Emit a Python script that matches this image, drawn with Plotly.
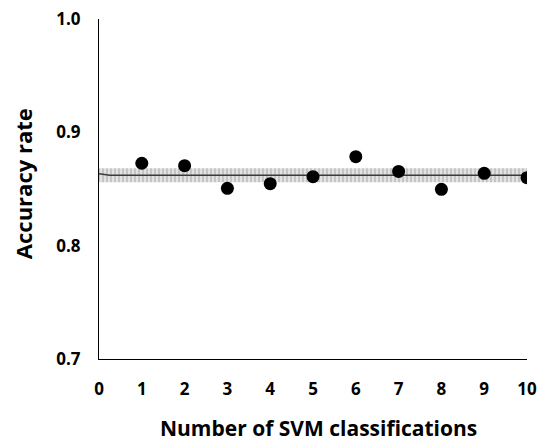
import plotly.graph_objects as go

runs = [1, 2, 3, 4, 5, 6, 7, 8, 9, 10]
accuracy = [0.8727, 0.8706, 0.8506, 0.8547, 0.8609, 0.8785, 0.8655, 0.8497, 0.8638, 0.8600]

mean_x = [0, 0.25, 10]
mean_y = [0.8635, 0.8622, 0.8622]
band_x = [0, 10]
band_lo = [0.8560, 0.8560]
band_hi = [0.8683, 0.8683]

x_ticks = [0, 1, 2, 3, 4, 5, 6, 7, 8, 9, 10]
y_ticks = [0.7, 0.8, 0.9, 1.0]
y_tick_labels = ["0.7", "0.8", "0.9", "1.0"]

FONT = "Open Sans"

fig = go.Figure()
fig.add_trace(go.Scatter(x=band_x, y=band_lo, mode="lines", line=dict(width=0),
                         showlegend=False, hoverinfo="skip"))
fig.add_trace(go.Scatter(x=band_x, y=band_hi, mode="lines", line=dict(width=0),
                         fill="tonexty", fillcolor="rgba(0,0,0,0)",
                         fillpattern=dict(shape="|", fgcolor="white", bgcolor="#c4c4c4",
                                          size=4, solidity=0.5),
                         showlegend=False, hoverinfo="skip"))
fig.add_trace(go.Scatter(x=mean_x, y=mean_y, mode="lines",
                         line=dict(color="#3a3a3a", width=1.5), showlegend=False))
fig.add_trace(go.Scatter(x=runs, y=accuracy, mode="markers",
                         marker=dict(color="black", size=13), showlegend=False))

fig.update_layout(
    width=537, height=444,
    margin=dict(l=99, r=10, t=19, b=85),
    paper_bgcolor="white", plot_bgcolor="white",
    font=dict(family=FONT, color="black"),
    annotations=[
        dict(text="<b>Number of SVM classifications</b>", xref="paper", yref="paper",
             x=0.513, y=-0.203, xanchor="center", yanchor="middle", showarrow=False,
             font=dict(family=FONT, size=21, color="black")),
        dict(text="<b>Accuracy rate</b>", xref="paper", yref="paper",
             x=-0.177, y=0.515, xanchor="center", yanchor="middle", showarrow=False,
             textangle=-90, font=dict(family=FONT, size=22, color="black")),
    ],
)
fig.update_xaxes(
    range=[0, 10], tickvals=x_ticks, showgrid=False, zeroline=False,
    showline=True, linecolor="black", linewidth=1, automargin=False,
    ticks="", ticklabelstandoff=15,
    tickfont=dict(family=FONT, size=17, weight="bold"),
)
fig.update_yaxes(
    range=[0.7, 1.0], tickvals=y_ticks, ticktext=[f"<b>{t}</b>" for t in y_tick_labels],
    showgrid=False, zeroline=False, automargin=False,
    showline=True, linecolor="black", linewidth=1,
    ticks="", ticklabelstandoff=14,
    tickfont=dict(family=FONT, size=17),
)

fig.write_html("out.html")
